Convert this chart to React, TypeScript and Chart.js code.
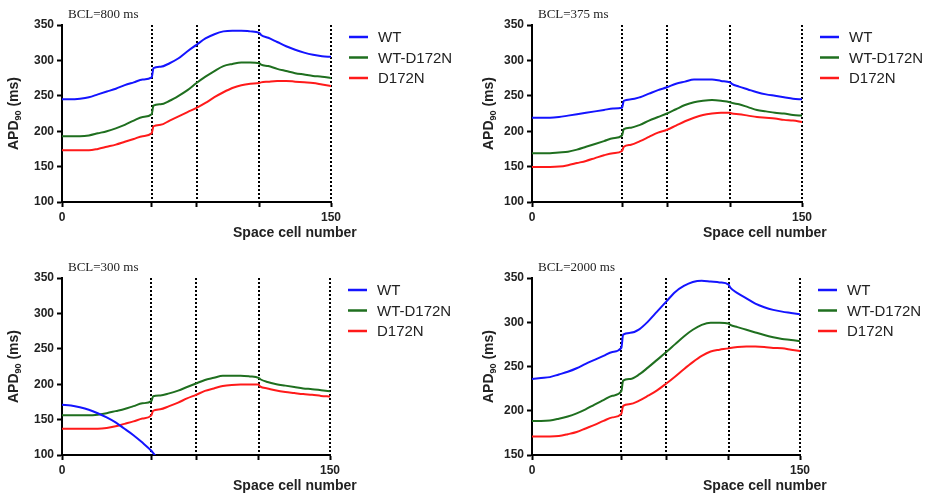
import React, { useEffect, useRef } from 'react';
import { Chart, registerables } from 'chart.js';

Chart.register(...registerables);

// ---- data ----
const cells = [0, 5, 10, 15, 20, 25, 30, 35, 40, 45, 50, 51, 55, 60, 65, 70, 75, 80, 85, 90, 95, 100, 105, 110, 111, 115, 120, 125, 130, 135, 140, 145, 150];
const dividerCells = [50, 75, 110, 150];
const xTickValues = [0, 50, 75, 110, 150];
const xTickLabels = ['0', '', '', '', '150'];
const seriesNames = ['WT', 'WT-D172N', 'D172N'];
const seriesColors = ['#1414ff', '#1f6f1f', '#ff1a1a'];
const panelTitles = ['BCL=800 ms', 'BCL=375 ms', 'BCL=300 ms', 'BCL=2000 ms'];
const yMins = [100, 100, 100, 150];
const yMax = 350;
const yStep = 50;

// BCL = 800 ms
const bcl800Wt = [245, 245, 246, 248, 252, 256, 260, 265, 269, 273, 276, 289, 291, 296, 303, 313, 322, 331, 337, 341, 342, 342, 341, 339, 336, 332, 326, 320, 315, 311, 308, 306, 305];
const bcl800WtD172n = [193, 193, 193, 194, 197, 200, 204, 209, 215, 220, 224, 236, 238, 243, 250, 258, 268, 277, 285, 292, 295, 297, 297, 296, 294, 292, 288, 285, 282, 280, 278, 277, 275];
const bcl800D172n = [173, 173, 173, 173, 175, 178, 181, 185, 189, 193, 197, 207, 209, 215, 221, 227, 233, 240, 248, 255, 261, 265, 267, 268, 269, 270, 271, 271, 270, 269, 268, 266, 264];

// BCL = 375 ms
const bcl375Wt = [219, 219, 219, 220, 222, 224, 226, 228, 230, 232, 233, 243, 245, 248, 253, 258, 262, 267, 270, 273, 273, 273, 271, 269, 267, 263, 259, 255, 252, 250, 248, 246, 245];
const bcl375WtD172n = [169, 169, 169, 170, 171, 174, 178, 182, 186, 190, 194, 203, 205, 209, 215, 220, 225, 231, 237, 241, 243, 244, 243, 241, 240, 238, 234, 230, 228, 226, 225, 223, 222];
const bcl375D172n = [149.5, 149.5, 149.5, 150, 152, 155, 158, 162, 166, 169, 172, 178, 181, 186, 192, 198, 202, 208, 214, 219, 223, 225, 226, 226, 225, 224, 222, 220, 219, 218, 216, 215, 213];

// BCL = 300 ms
const bcl300Wt = [171, 170, 167.5, 164, 159, 153, 146, 137, 128, 117.5, 106, 103, 90, null, null, null, null, null, null, null, null, null, null, null, null, null, null, null, null, null, null, null, null];
const bcl300WtD172n = [156, 156, 156, 156, 157, 159, 162, 165, 169, 173, 176, 183, 184, 187, 191, 196, 201, 206, 209, 212, 212, 212, 211, 209, 207, 203, 200, 198, 196, 194, 193, 191.5, 190];
const bcl300D172n = [137, 137, 137, 137, 137, 138, 140.5, 144, 147.5, 151.5, 156, 162.5, 164.5, 169, 174, 180, 185, 190.5, 194, 197.5, 199, 199.5, 199.5, 199.5, 196.5, 194, 191, 189, 187.5, 186, 185, 183.5, 182.5];

// BCL = 2000 ms
const bcl2000Wt = [236, 237, 238, 241, 244, 248, 253, 257.5, 262, 266.5, 271, 286, 288, 292, 301, 312, 323, 334, 341, 345.5, 347, 346, 345, 342.5, 339, 333, 327, 321, 317, 314, 312, 310.5, 309];
const bcl2000WtD172n = [188.5, 188.5, 189, 191, 193.5, 197, 201.5, 207, 212, 217, 222, 234, 236, 241, 249, 257.5, 266, 275, 284, 291.5, 297, 299.5, 299.5, 298.5, 297, 294.5, 291.5, 288.5, 285.5, 283, 281, 280, 278.5];
const bcl2000D172n = [171, 171, 171, 171.5, 173.5, 176, 180, 184, 188.5, 192.5, 196.5, 205.5, 207.5, 211.5, 217, 223, 230.5, 238.5, 247, 255, 262, 267, 269, 270.5, 271, 272, 272.5, 272.5, 272, 271, 270.5, 269, 267.5];

const panelSeries = [
  [bcl800Wt, bcl800WtD172n, bcl800D172n],
  [bcl375Wt, bcl375WtD172n, bcl375D172n],
  [bcl300Wt, bcl300WtD172n, bcl300D172n],
  [bcl2000Wt, bcl2000WtD172n, bcl2000D172n],
];

// ---- layout ----
const panelLayouts = [
  { left: 0, top: 0, w: 460, h: 250, l: 62, r: 331, t: 25, b: 202, yTitleX: 13 },
  { left: 460, top: 0, w: 465, h: 250, l: 72, r: 342, t: 25, b: 202, yTitleX: 28 },
  { left: 0, top: 250, w: 460, h: 250, l: 62, r: 330, t: 28, b: 205, yTitleX: 13 },
  { left: 460, top: 250, w: 465, h: 250, l: 72, r: 340, t: 28, b: 205, yTitleX: 28 },
];

const SANS = "'Liberation Sans', Arial, sans-serif";
const SERIF = "'Liberation Serif', 'Times New Roman', serif";
const TEXT = '#222222';

function Panel({ idx }: { idx: number }) {
  const ref = useRef<HTMLCanvasElement | null>(null);
  const lay = panelLayouts[idx];

  useEffect(() => {
    const canvas = ref.current;
    if (!canvas) return;

    const decor = {
      id: 'decor' + idx,
      beforeDatasetsDraw(chart: any) {
        const { ctx, chartArea } = chart;
        const xs = chart.scales.x;
        ctx.save();
        ctx.strokeStyle = '#000';
        ctx.lineWidth = 2;
        ctx.setLineDash([2, 2]);
        dividerCells.forEach((c) => {
          const x = Math.round(xs.getPixelForValue(c));
          ctx.beginPath();
          ctx.moveTo(x, chartArea.top);
          ctx.lineTo(x, chartArea.bottom);
          ctx.stroke();
        });
        ctx.restore();
      },
      afterDraw(chart: any) {
        const { ctx, chartArea } = chart;
        const { left, right, top, bottom } = chartArea;
        ctx.save();
        // legend
        chart.data.datasets.forEach((ds: any, i: number) => {
          const y = top + 12 + 20.5 * i;
          ctx.strokeStyle = ds.borderColor;
          ctx.lineWidth = 2.5;
          ctx.setLineDash([]);
          ctx.beginPath();
          ctx.moveTo(right + 18, y);
          ctx.lineTo(right + 37, y);
          ctx.stroke();
          ctx.fillStyle = TEXT;
          ctx.font = `15px ${SANS}`;
          ctx.textAlign = 'left';
          ctx.textBaseline = 'middle';
          ctx.fillText(ds.label, right + 47, y + 1);
        });
        // BCL label
        ctx.fillStyle = TEXT;
        ctx.font = `13px ${SERIF}`;
        ctx.textAlign = 'left';
        ctx.textBaseline = 'middle';
        ctx.fillText(panelTitles[idx], left + 6, top - 10);
        // x title
        ctx.font = `bold 14px ${SANS}`;
        ctx.fillText('Space cell number', left + 171, bottom + 31.5);
        // y title with subscript
        const cy = (top + bottom) / 2;
        ctx.translate(lay.yTitleX, cy);
        ctx.rotate(-Math.PI / 2);
        const big = `bold 14px ${SANS}`;
        const small = `bold 9px ${SANS}`;
        ctx.font = big;
        const w1 = ctx.measureText('APD').width;
        const w3 = ctx.measureText(' (ms)').width;
        ctx.font = small;
        const w2 = ctx.measureText('90').width;
        let x = -(w1 + w2 + w3) / 2;
        ctx.textBaseline = 'alphabetic';
        ctx.font = big;
        ctx.fillText('APD', x, 5);
        x += w1;
        ctx.font = small;
        ctx.fillText('90', x, 8);
        x += w2;
        ctx.font = big;
        ctx.fillText(' (ms)', x, 5);
        ctx.restore();
      },
    };

    const chart = new Chart(canvas, {
      type: 'line',
      data: {
        datasets: panelSeries[idx].map((vals, i) => ({
          label: seriesNames[i],
          data: cells.map((c, k) => ({ x: c, y: vals[k] })),
          borderColor: seriesColors[i],
          backgroundColor: seriesColors[i],
          borderWidth: 2,
          pointRadius: 0,
          fill: false,
          spanGaps: false,
          cubicInterpolationMode: 'monotone',
        })),
      },
      options: {
        responsive: false,
        animation: false,
        devicePixelRatio: 1,
        events: [],
        layout: { padding: { left: 0, top: lay.t, right: lay.w - lay.r, bottom: 0 } },
        plugins: { legend: { display: false }, tooltip: { enabled: false } },
        scales: {
          x: {
            type: 'linear',
            min: 0,
            max: 150,
            afterFit: (s: any) => { s.height = lay.h - lay.b; },
            afterBuildTicks: (s: any) => { s.ticks = xTickValues.map((v) => ({ value: v })); },
            grid: { drawOnChartArea: false, drawTicks: true, tickLength: 5, tickWidth: 2, tickColor: '#000' },
            border: { display: true, width: 2, color: '#000' },
            ticks: {
              autoSkip: false,
              maxRotation: 0,
              padding: 3,
              color: TEXT,
              font: { family: SANS, size: 12, weight: 'bold' },
              callback: (v: any) => {
                const k = xTickValues.indexOf(Number(v));
                return k >= 0 ? xTickLabels[k] : '';
              },
            },
          },
          y: {
            type: 'linear',
            min: yMins[idx],
            max: yMax,
            afterFit: (s: any) => { s.width = lay.l; },
            grid: { drawOnChartArea: false, drawTicks: true, tickLength: 5, tickWidth: 2, tickColor: '#000' },
            border: { display: true, width: 2, color: '#000' },
            ticks: {
              stepSize: yStep,
              padding: 3,
              color: TEXT,
              font: { family: SANS, size: 12, weight: 'bold' },
            },
          },
        },
      },
      plugins: [decor],
    } as any);

    return () => chart.destroy();
  }, [idx]);

  return (
    <canvas
      ref={ref}
      width={lay.w}
      height={lay.h}
      style={{ position: 'absolute', left: lay.left, top: lay.top, width: lay.w, height: lay.h, display: 'block' }}
    />
  );
}

export default function App() {
  return (
    <div style={{ position: 'absolute', left: 0, top: 0, width: 925, height: 500, background: '#fff', overflow: 'hidden' }}>
      {panelLayouts.map((_, i) => (
        <Panel key={i} idx={i} />
      ))}
    </div>
  );
}
